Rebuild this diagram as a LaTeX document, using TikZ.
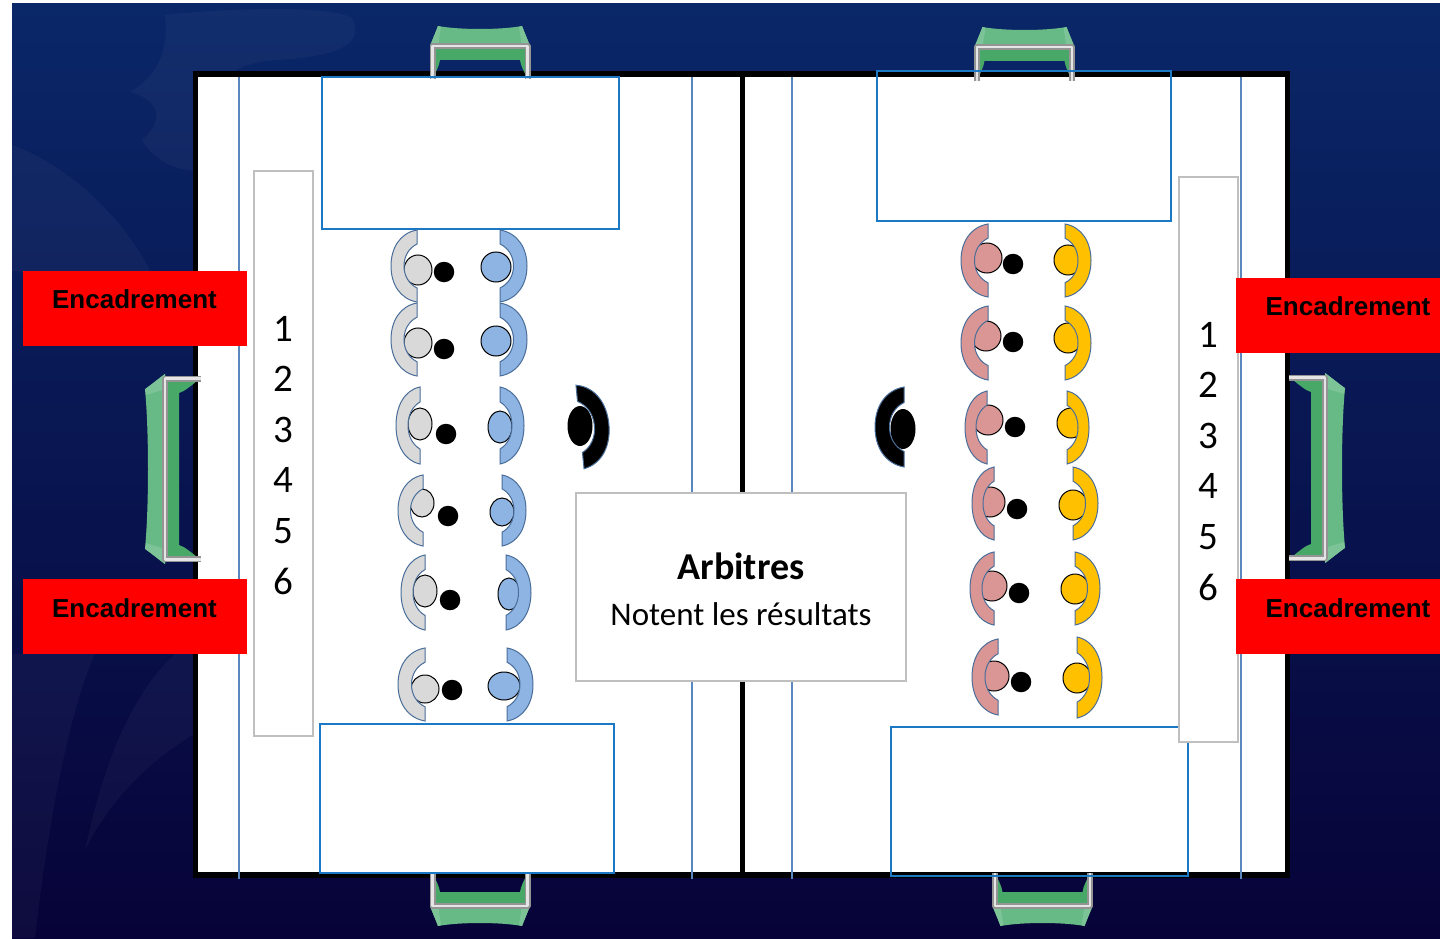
\documentclass[tikz,border=0pt]{standalone}
\usepackage{fontspec}
\setmainfont{Carlito}
\newfontfamily\arialfont{Liberation Sans}
\usetikzlibrary{shadings}

\definecolor{fondhaut}{HTML}{0A2768}
\definecolor{fondmil}{HTML}{081C5E}
\definecolor{fondbas}{HTML}{070338}
\definecolor{traitbleu}{HTML}{1B78C4}
\definecolor{lignebleu}{HTML}{5A87BE}
\definecolor{bordgris}{HTML}{BFBFBF}
\definecolor{bordjoueur}{HTML}{4A6E9A}
\definecolor{gris}{HTML}{D9D9D9}
\definecolor{bleu}{HTML}{8EB4E3}
\definecolor{rose}{HTML}{D99694}
\definecolor{jaune}{HTML}{FFC000}
\definecolor{filetclair}{HTML}{67B986}
\definecolor{filetcoin}{HTML}{7CC497}
\definecolor{filetfonce}{HTML}{47A868}

\newcommand{\croissant}[5]{%
  \begin{scope}[shift={(#1,#2)}, x={(#5*#4/26 pt,0pt)}, y={(0pt,-#3/72 pt)}]
    \filldraw[joueur] (0,-36) .. controls (-17,-33) and (-26,-18) .. (-26,0)
      .. controls (-26,18) and (-17,33) .. (0,36) -- (0,22)
      .. controls (-8,18) and (-13,10) .. (-13,0)
      .. controls (-13,-10) and (-8,-18) .. (0,-22) -- cycle;
  \end{scope}}
\newcommand{\but}[5]{%
  \begin{scope}[shift={(#1,#2)}, x={#3}, y={#4}]
    \fill[filetclair] (-50,0) .. controls (-47,-8) and (-44,-14) .. (-42,-20)
      .. controls (-20,-16) and (20,-16) .. (42,-20)
      .. controls (44,-14) and (47,-8) .. (50,0) -- cycle;
    \fill[filetcoin] (-50,0) -- (-42,-20) -- (-39,-19) -- (-42,0) -- cycle;
    \fill[filetcoin] (50,0) -- (42,-20) -- (39,-19) -- (42,0) -- cycle;
    \fill[filetfonce] (-48,0) -- (48,0) -- (48,#5) .. controls (43,24) and (41,20) .. (40,14)
      -- (-40,14) .. controls (-41,20) and (-43,24) .. (-48,#5) -- cycle;
    \draw[barre] (-47.5,#5) -- (-47.5,0) -- (47.5,0) -- (47.5,#5);
  \end{scope}}

\begin{document}
\begin{tikzpicture}[x=1pt, y=-1pt, semithick]
\tikzstyle{joueur}=[fill=joueurfill, draw=bordjoueur, line width=1pt]
\tikzstyle{barre}=[draw=black!42, double=black!10, double distance=2.8pt,
                    line width=1.6pt, line join=round]
\tikzstyle{tete}=[draw=black, line width=1pt]
\tikzstyle{balle}=[shape=circle, fill=black, inner sep=0pt, minimum size=20.5pt]
\tikzstyle{zone}=[draw=traitbleu, line width=1.8pt]
\tikzstyle{ligne}=[draw=lignebleu, line width=1.2pt]
\tikzstyle{cadre}=[shape=rectangle, fill=white, draw=bordgris, line width=1.6pt, inner sep=0pt]
\tikzstyle{rouge}=[shape=rectangle, fill=red, inner sep=0pt, minimum height=75pt]
\tikzstyle{encad}=[font=\arialfont\bfseries\fontsize{26}{30}\selectfont, text=black, inner sep=0pt]
\tikzstyle{chiffre}=[font=\fontsize{39}{44}\selectfont, inner sep=0pt]
\tikzstyle{swirl}=[fill=white, fill opacity=0.035]

  \useasboundingbox (0,0) rectangle (1440,939);
  % fond
  \fill[white] (0,0) rectangle (1440,939);
  \shade[top color=fondhaut, middle color=fondmil, bottom color=fondbas]
    (12,4) rectangle (1440,938);
  \fill[swirl] (165,15) .. controls (230,8) and (330,5) .. (352,18) .. controls (362,40) and (350,55) .. (280,60)
    .. controls (240,62) and (200,72) .. (193,170) .. controls (170,170) and (150,155) .. (142,140)
    .. controls (165,120) and (160,100) .. (130,92) .. controls (150,80) and (170,60) .. (165,15) -- cycle;
  \fill[swirl] (12,145) .. controls (80,170) and (130,230) .. (150,271) -- (12,271) -- cycle;
  \fill[swirl] (12,654) -- (95,654) .. controls (65,720) and (45,850) .. (35,938) -- (12,938) -- cycle;
  \fill[swirl] (193,654) -- (175,654) .. controls (125,700) and (100,780) .. (85,850)
    .. controls (110,800) and (150,760) .. (193,735) -- cycle;

  % terrain
  \draw[line width=5.5pt, fill=white] (195.5,74) rectangle (1287.5,875);
  \draw[line width=5.5pt] (742.5,74) -- (742.5,875);

  % buts
  \but{480}{46}{(1pt,0pt)}{(0pt,-1pt)}{33}
  \but{1024.5}{47}{(1pt,0pt)}{(0pt,-1pt)}{34}
  \but{480}{906}{(1pt,0pt)}{(0pt,1pt)}{33}
  \but{1042.5}{906}{(1pt,0pt)}{(0pt,1pt)}{33}
  \but{165}{469}{(0pt,1.9pt)}{(1pt,0pt)}{36}
  \but{1325}{468}{(0pt,1.9pt)}{(-1pt,0pt)}{36}

  % lignes et zones
  \foreach \xx in {239,692,792,1241}
    \draw[ligne] (\xx,77) -- (\xx,879);
  \draw[zone] (322,77) rectangle (619,229);
  \draw[zone] (877,71) rectangle (1171,221);
  \draw[zone] (320,724) rectangle (614,873);
  \draw[zone] (891,727) rectangle (1188,876);

  % colonnes de numeros
  \node[cadre, minimum width=59pt, minimum height=565pt] (colG) at (283.5,453.5) {};
  \node[cadre, minimum width=59pt, minimum height=565pt] (colD) at (1208.5,459.5) {};
  \foreach \n/\yy in {1/329,2/379,3/430,4/480,5/531,6/581}
    \node[chiffre] (numG\n) at (283,\yy) {\n};
  \foreach \n/\yy in {1/335,2/385,3/436,4/486,5/537,6/587}
    \node[chiffre] (numD\n) at (1208,\yy) {\n};

  % encadrement
  \node[rouge, minimum width=224pt] (rougeA) at (135,308.5) {};
  \node[rouge, minimum width=224pt] (rougeB) at (135,616.5) {};
  \node[rouge, minimum width=204pt] (rougeC) at (1338,315.5) {};
  \node[rouge, minimum width=204pt] (rougeD) at (1338,616.5) {};
  \node[encad] (encA) at (134.5,299) {Encadrement};
  \node[encad] (encB) at (134.5,608) {Encadrement};
  \node[encad] (encC) at (1348,306) {Encadrement};
  \node[encad] (encD) at (1348,608) {Encadrement};

  % arbitres
  \node[cadre, minimum width=330pt, minimum height=188pt] (arb) at (741,587) {};
  \node[font=\bfseries\fontsize{38}{44}\selectfont, inner sep=0pt] (arbT) at (741,566) {Arbitres};
  \node[font=\fontsize{33}{38}\selectfont, inner sep=0pt] (arbN) at (741,614) {Notent les résultats};

  % joueurs gris
  \colorlet{joueurfill}{gris}
  \foreach \hx/\hy/\rx/\ry/\fx/\cy/\hh/\ww in {418/270/14/15/417/266/72/26, 418/343/14/15/417/339.5/73/26,
      420/424/12/16/420/425.5/77/24, 422/503/12/14/423/510.5/71/25,
      425/591/12/16/425/592.5/75/24, 425/689/14/14/425/684.5/73/27}{
    \filldraw[tete, fill=gris] (\hx,\hy) ellipse [x radius=\rx, y radius=\ry];
    \croissant{\fx}{\cy}{\hh}{\ww}{1}
  }
  % joueurs bleus
  \colorlet{joueurfill}{bleu}
  \foreach \hx/\hy/\rx/\ry/\fx/\cy/\hh/\ww in {496/267/15/15/500/266/72/27, 496/341/15/15/500/339.5/73/27,
      500/427/12/16/500/425.5/77/24, 502/512/12/14/502/510.5/71/24,
      509/594/11/16/506/592.5/75/25, 504/686/16/14/507/684.5/73/26}{
    \filldraw[tete, fill=bleu] (\hx,\hy) ellipse [x radius=\rx, y radius=\ry];
    \croissant{\fx}{\cy}{\hh}{\ww}{-1}
  }
  % joueurs roses
  \colorlet{joueurfill}{rose}
  \foreach \hx/\hy/\rx/\ry/\fx/\cy/\hh/\ww in {987/258/15/15/988/260.5/73/27, 986/336/15/15/988/343/74/27,
      988/420/15/15/987/427.5/73/22, 990/502/15/15/994/503.5/73/22,
      992/586/15/15/994/588.5/73/24, 994/676/15/15/998/677/76/26}{
    \filldraw[tete, fill=rose] (\hx,\hy) ellipse [x radius=\rx, y radius=\ry];
    \croissant{\fx}{\cy}{\hh}{\ww}{1}
  }
  % joueurs jaunes
  \colorlet{joueurfill}{jaune}
  \foreach \hx/\hy/\rx/\ry/\fx/\cy/\hh/\ww in {1068/260/14/15/1065/260.5/73/26, 1068/338/14/15/1065/343/74/26,
      1071/423/14/15/1067/427.5/73/22, 1073/505/14/15/1073/503.5/73/25,
      1075/589/14/15/1075/588.5/73/25, 1077/678/14/15/1077/677.5/81/25}{
    \filldraw[tete, fill=jaune] (\hx,\hy) ellipse [x radius=\rx, y radius=\ry];
    \croissant{\fx}{\cy}{\hh}{\ww}{-1}
  }
  % balles
  \foreach \i/\bx/\by in {1/444/272,2/444/349,3/446/434,4/448/516,5/450/600,6/452/690}
    \node[balle] (balleG\i) at (\bx,\by) {};
  \foreach \i/\bx/\by in {1/1013/264,2/1013/342,3/1015/427,4/1017/509,5/1019/593,6/1021/682}
    \node[balle] (balleD\i) at (\bx,\by) {};

  % arbitres noirs
  \colorlet{joueurfill}{black}
  \fill[black] (580,426) ellipse [x radius=12.5, y radius=20];
  \begin{scope}[rotate around={5.5:(580,427)}]
    \croissant{580}{427}{84}{29}{-1}
  \end{scope}
  \fill[black] (903,429) ellipse [x radius=12.5, y radius=20];
  \croissant{904}{427}{80}{29}{1}
\end{tikzpicture}
\end{document}
